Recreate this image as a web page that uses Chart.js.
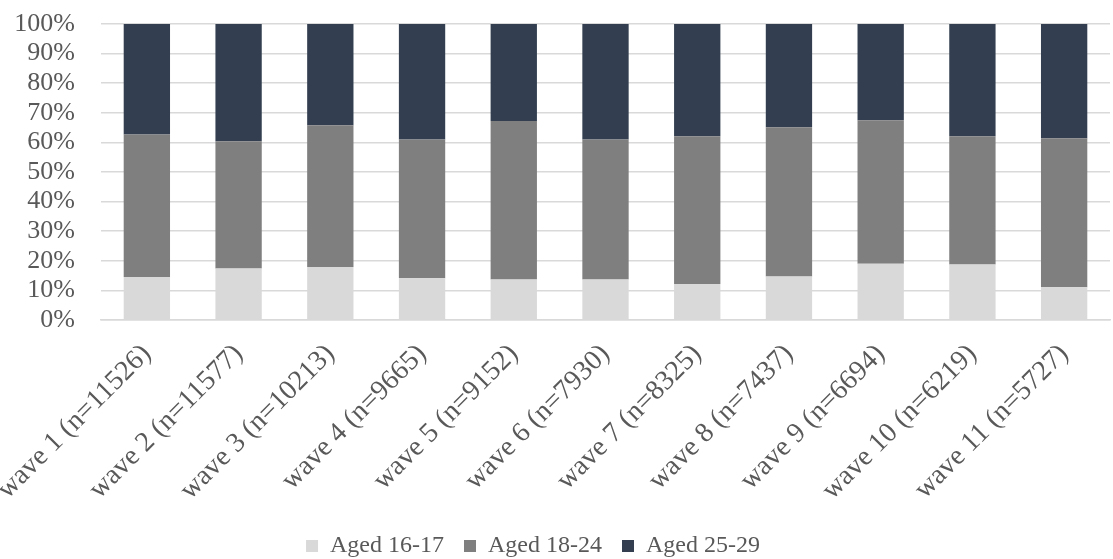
<!DOCTYPE html>
<html>
<head>
<meta charset="utf-8">
<script src="https://cdn.jsdelivr.net/npm/chart.js@4/dist/chart.umd.min.js"></script>
<style>
  html, body { margin: 0; padding: 0; background: #fff; }
  #wrap { width: 1113px; height: 559px; }
</style>
</head>
<body>
<div id="wrap"><canvas id="waveChart"></canvas></div>
<script>
const waves = [
  "wave 1 (n=11526)", "wave 2 (n=11577)", "wave 3 (n=10213)", "wave 4 (n=9665)",
  "wave 5 (n=9152)", "wave 6 (n=7930)", "wave 7 (n=8325)", "wave 8 (n=7437)",
  "wave 9 (n=6694)", "wave 10 (n=6219)", "wave 11 (n=5727)"
];
const aged16to17 = [14.5, 17.4, 17.9, 14.1, 13.7, 13.7, 12.1, 14.7, 19.0, 18.7, 11.0];
const aged18to24 = [48.2, 43.0, 47.9, 46.9, 53.5, 47.3, 50.0, 50.4, 48.5, 43.4, 50.4];
const aged25to29 = [37.3, 39.6, 34.2, 39.0, 32.8, 39.0, 37.9, 34.9, 32.5, 37.9, 38.6];

const textColor = "#595959";
const serif = "'Liberation Serif', 'Times New Roman', serif";

// nudge the legend a bit left, like the original
const legendShift = {
  id: "legendShift",
  afterLayout(chart) {
    chart.legend.left -= 22;
    chart.legend.right -= 22;
  },
};

const ctx = document.getElementById("waveChart").getContext("2d");
new Chart(ctx, {
  type: "bar",
  data: {
    labels: waves,
    datasets: [
      { label: "Aged 16-17", data: aged16to17, backgroundColor: "#d9d9d9" },
      { label: "Aged 18-24", data: aged18to24, backgroundColor: "#7f7f7f" },
      { label: "Aged 25-29", data: aged25to29, backgroundColor: "#333f50" },
    ],
  },
  plugins: [legendShift],
  options: {
    responsive: true,
    maintainAspectRatio: false,
    animation: false,
    layout: { padding: { top: 24, right: 3, left: 0, bottom: -9 } },
    datasets: {
      bar: { barPercentage: 0.505, categoryPercentage: 1.0 },
    },
    plugins: {
      tooltip: { enabled: false },
      legend: {
        position: "bottom",
        labels: {
          boxWidth: 12,
          boxHeight: 12,
          padding: 20,
          color: textColor,
          font: { family: serif, size: 24 },
        },
      },
    },
    scales: {
      x: {
        stacked: true,
        grid: { display: false, drawTicks: false },
        border: { color: "#d9d9d9", width: 1.5 },
        afterFit: (s) => { s.paddingLeft = 101; s.height -= 11; },
        ticks: {
          color: textColor,
          font: { family: serif, size: 28 },
          minRotation: 45,
          maxRotation: 45,
          padding: 18,
          autoSkip: false,
        },
      },
      y: {
        stacked: true,
        min: 0,
        max: 100,
        grid: { color: "#d9d9d9", lineWidth: 1.5, drawTicks: false },
        border: { display: false },
        afterFit: (s) => { s.width = 101; s.paddingTop = 0; s.paddingBottom = 0; },
        ticks: {
          stepSize: 10,
          autoSkip: false,
          color: textColor,
          font: { family: serif, size: 26 },
          padding: 26,
          callback: (v) => v + "%",
        },
      },
    },
  },
});
</script>
</body>
</html>
